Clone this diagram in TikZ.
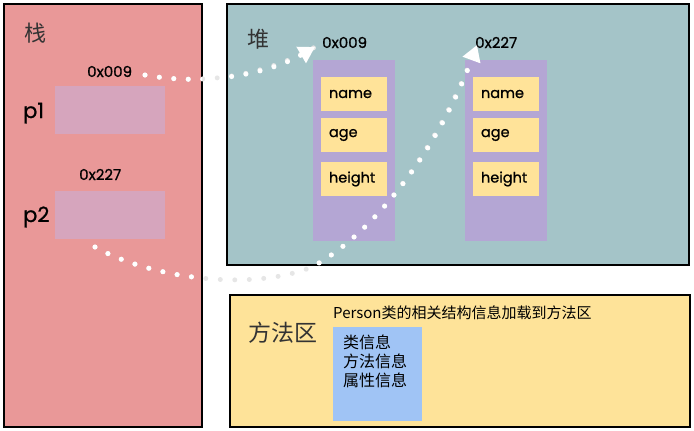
\documentclass[tikz,border=0pt]{standalone}
\usepackage{fontspec}
\newfontfamily\cjk{Noto Sans CJK SC}
\newfontfamily\lat[FakeBold=0.8]{Poppins}
\usetikzlibrary{arrows.meta}
\definecolor{stackcol}{HTML}{E99898}
\definecolor{pcol}{HTML}{D6A5BD}
\definecolor{heapcol}{HTML}{A4C4C8}
\definecolor{objcol}{HTML}{B4A6D4}
\definecolor{fieldcol}{HTML}{FFE399}
\definecolor{methodcol}{HTML}{FEE399}
\definecolor{bluecol}{HTML}{A0C4F5}
\definecolor{dotgray}{HTML}{E6E6E6}
\tikzset{
  area/.style={draw=black, line width=2pt, inner sep=0pt},
  slot/.style={fill=pcol, inner sep=0pt, minimum width=110pt, minimum height=48pt},
  obj/.style={fill=objcol, inner sep=0pt, minimum width=82pt, minimum height=181pt},
  field/.style={fill=fieldcol, inner xsep=8pt, inner ysep=0pt, minimum width=66pt, minimum height=34pt, text width=50pt, align=left, font=\lat\fontsize{14.5}{16}\selectfont},
  title/.style={inner sep=0pt, font=\cjk\fontsize{22}{26}\selectfont, text=black!80},
  addr/.style={inner sep=0pt, anchor=base west, font=\lat\fontsize{15}{18}\selectfont},
  pname/.style={inner sep=0pt, anchor=base west, font=\lat\fontsize{21}{24}\selectfont},
  dotline/.style={line width=5pt, line cap=round, dash pattern=on 0pt off 14.5pt},
  tipw/.style={-{Triangle[length=16pt, width=18pt]}},
}
\begin{document}
\begin{tikzpicture}[x=1pt,y=-1pt]
\useasboundingbox (0,0) rectangle (694,431);
% areas
\node[area, fill=stackcol, minimum width=198pt, minimum height=423pt] (stack) at (103,215.5) {};
\node[area, fill=heapcol, minimum width=462pt, minimum height=261pt] (heap) at (458,134.5) {};
\node[area, fill=methodcol, minimum width=460pt, minimum height=132pt] (method) at (460,361) {};
% titles
\node[title] (tstack) at (35,33) {栈};
\node[title] (theap) at (258,39) {堆};
\node[title, font=\cjk\fontsize{23}{26}\selectfont] (tmethod) at (283,333) {方法区};
% stack slots
\node[slot] (p1box) at (110,110) {};
\node[slot] (p2box) at (110,215) {};
\node[pname] (p1) at (23,118) {p1};
\node[pname] (p2) at (23,222) {p2};
\node[addr] (s009) at (87,77) {0x009};
\node[addr] (s227) at (79,180) {0x227};
% heap objects
\node[obj] (obj1) at (354,150.5) {};
\node[obj] (obj2) at (506,150.5) {};
\node[addr] (h009) at (322,48) {0x009};
\node[addr] (h227) at (475,48) {0x227};
\node[field] (n1) at (354,94) {name};
\node[field] (a1) at (354,135) {age};
\node[field] (h1) at (354,179) {height};
\node[field] (n2) at (506,94) {name};
\node[field] (a2) at (506,135) {age};
\node[field] (h2) at (506,179) {height};
% method area
\node[inner sep=0pt, anchor=base west, font=\cjk\fontsize{15}{18}\selectfont] (mtitle) at (333,318) {Person类的相关结构信息加载到方法区};
\node[fill=bluecol, inner sep=0pt, minimum width=89pt, minimum height=94pt] (classinfo) at (377.5,374) {};
\node[inner sep=0pt, anchor=north west, align=left, font=\cjk\fontsize{16}{19}\selectfont] (ctext) at (343,335) {类信息\\方法信息\\属性信息};
% connectors
\coordinate (a1s) at (145,75);
\coordinate (a1e) at (315,47);
\coordinate (a2s) at (95,247);
\coordinate (a2m) at (312,267);
\coordinate (a2e) at (477,45);
\def\arrowone{(a1s) .. controls (210,87) and (272,72) .. (a1e)}
\def\arrowtwo{(a2s) .. controls (150,278) and (250,292) .. (a2m) .. controls (380,230) and (442,140) .. (a2e)}
\draw[dotline, dotgray] \arrowone;
\draw[dotline, dotgray] \arrowtwo;
\begin{scope}
\clip (4,4) rectangle (202,427) (227,4) rectangle (689,265) (230,295) rectangle (690,427);
\draw[dotline, white, tipw] \arrowone;
\draw[dotline, white, tipw] \arrowtwo;
\end{scope}
\end{tikzpicture}
\end{document}
